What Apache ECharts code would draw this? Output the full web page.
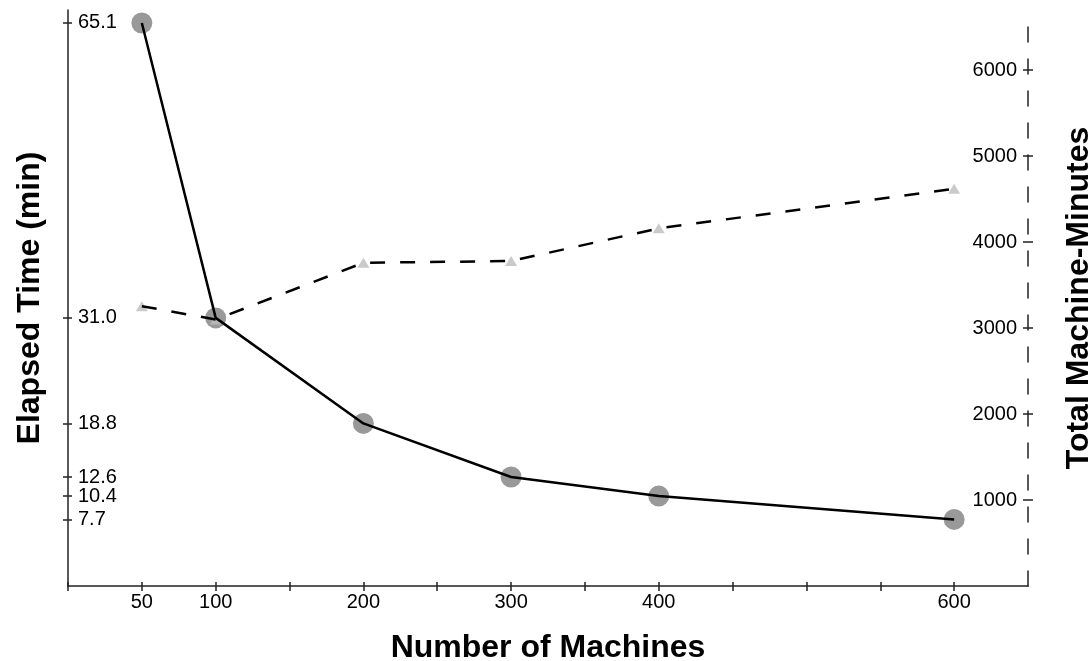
<!DOCTYPE html>
<html>
<head>
<meta charset="utf-8">
<script src="https://cdn.jsdelivr.net/npm/echarts@6/dist/echarts.min.js"></script>
<style>
  html, body { margin: 0; padding: 0; background: #fff; }
  #main { width: 1091px; height: 661px; }
</style>
</head>
<body>
<div id="main"></div>
<script>
// data
var machines = [50, 100, 200, 300, 400, 600];
var elapsed = [65.1, 31.0, 18.8, 12.6, 10.4, 7.7];
var machineMinutes = [3255, 3100, 3760, 3780, 4160, 4620];

var xLabels = [50, 100, 200, 300, 400, 600];
var xTicks = [0, 50, 100, 150, 200, 250, 300, 350, 400, 450, 500, 550, 600];
var leftTicks = [65.1, 31.0, 18.8, 12.6, 10.4, 7.7];
var rightTicks = [1000, 2000, 3000, 4000, 5000, 6000];

var FONT = '"Liberation Sans", Arial, Helvetica, sans-serif';

function pairs(xs, ys) {
  return xs.map(function (x, i) { return [x, ys[i]]; });
}

var myChart = echarts.init(document.getElementById('main'));

var axisCol = '#222';
var nameStyle = { fontFamily: FONT, fontSize: 32, fontWeight: 'bold', color: '#000' };

var option = {
  animation: false,
  backgroundColor: '#fff',
  grid: { left: 68, right: 63, top: 10, bottom: 75, containLabel: false, outerBoundsMode: 'none' },
  xAxis: [
    {
      type: 'value', min: 0, max: 650, position: 'bottom',
      name: 'Number of Machines', nameLocation: 'middle', nameGap: 46,
      nameTextStyle: nameStyle,
      splitLine: { show: false },
      axisLine: { onZero: false, lineStyle: { color: axisCol, width: 1.5 } },
      axisTick: { customValues: xTicks, length: 5, lineStyle: { color: axisCol, width: 1.5 } },
      axisLabel: {
        customValues: xLabels, margin: 6,
        fontFamily: FONT, fontSize: 20, color: '#000'
      }
    },
    {
      // inner half of the crossing ticks
      type: 'value', min: 0, max: 650, position: 'bottom',
      splitLine: { show: false }, axisLine: { show: false, onZero: false }, axisLabel: { show: false },
      axisTick: { customValues: xTicks, inside: true, length: 4, lineStyle: { color: axisCol, width: 1.5 } }
    }
  ],
  yAxis: [
    {
      type: 'value', min: 0, max: 66.6, position: 'left',
      name: 'Elapsed Time (min)', nameLocation: 'middle', nameGap: 22,
      nameTextStyle: nameStyle,
      splitLine: { show: false },
      axisLine: { onZero: false, lineStyle: { color: axisCol, width: 1.5 } },
      axisTick: { customValues: leftTicks, length: 5, lineStyle: { color: axisCol, width: 1.5 } },
      axisLabel: {
        customValues: leftTicks, inside: true, margin: 10,
        fontFamily: FONT, fontSize: 20, color: '#000',
        formatter: function (v) { return v.toFixed(1); }
      }
    },
    {
      type: 'value', min: 0, max: 6700, position: 'right',
      name: 'Total Machine-Minutes', nameLocation: 'middle', nameGap: 35,
      nameTextStyle: nameStyle,
      splitLine: { show: false },
      axisLine: { onZero: false, lineStyle: { color: axisCol, width: 1.5, type: [15, 17] } },
      axisTick: { customValues: rightTicks, length: 5, lineStyle: { color: axisCol, width: 1.5 } },
      axisLabel: {
        customValues: rightTicks, inside: true, margin: 11,
        fontFamily: FONT, fontSize: 20, color: '#000',
        formatter: function (v) { return String(v); }
      }
    },
    {
      type: 'value', min: 0, max: 66.6, position: 'left',
      splitLine: { show: false }, axisLine: { show: false, onZero: false }, axisLabel: { show: false },
      axisTick: { customValues: leftTicks, inside: true, length: 4, lineStyle: { color: axisCol, width: 1.5 } }
    },
    {
      type: 'value', min: 0, max: 6700, position: 'right',
      splitLine: { show: false }, axisLine: { show: false, onZero: false }, axisLabel: { show: false },
      axisTick: { customValues: rightTicks, inside: true, length: 5, lineStyle: { color: axisCol, width: 1.5 } }
    }
  ],
  series: [
    {
      name: 'Elapsed markers', type: 'scatter', xAxisIndex: 0, yAxisIndex: 0, z: 2,
      symbol: 'circle', symbolSize: 21,
      itemStyle: { color: '#7f7f7f' },
      data: pairs(machines, elapsed)
    },
    {
      name: 'Machine-minutes markers', type: 'scatter', xAxisIndex: 0, yAxisIndex: 1, z: 2,
      symbol: 'triangle', symbolSize: [12, 10],
      itemStyle: { color: '#bdbdbd' },
      data: pairs(machines, machineMinutes)
    },
    {
      name: 'Elapsed Time', type: 'line', xAxisIndex: 0, yAxisIndex: 0, z: 3,
      showSymbol: false, symbol: 'none',
      lineStyle: { color: '#000', width: 2.5 },
      data: pairs(machines, elapsed)
    },
    {
      name: 'Total Machine-Minutes', type: 'line', xAxisIndex: 0, yAxisIndex: 1, z: 3,
      showSymbol: false, symbol: 'none',
      lineStyle: { color: '#000', width: 2.5, type: [15, 15] },
      data: pairs(machines, machineMinutes)
    }
  ]
};

myChart.setOption(option);
</script>
</body>
</html>
